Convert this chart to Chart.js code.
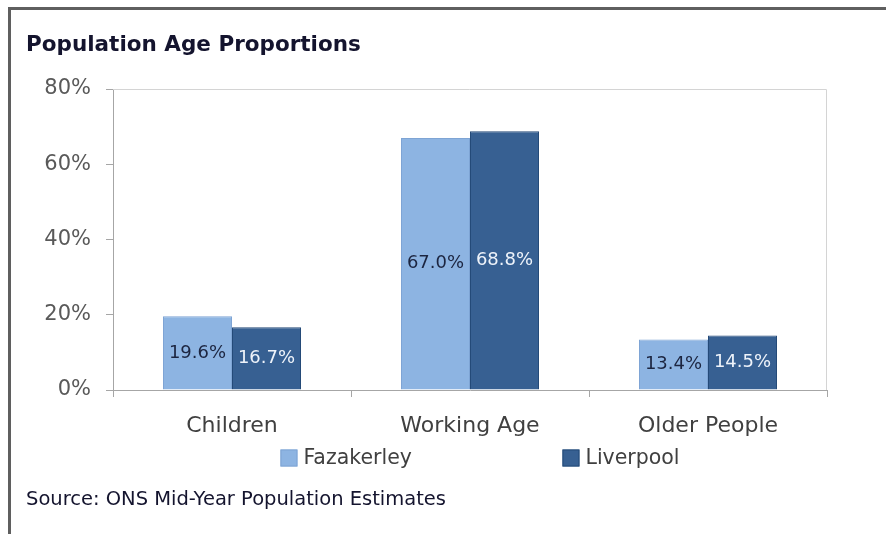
<!DOCTYPE html>
<html>
<head>
<meta charset="utf-8">
<script src="https://cdn.jsdelivr.net/npm/chart.js@4"></script>
<style>
  html, body { margin: 0; padding: 0; background: #fff; }
  #wrap { position: relative; width: 886px; height: 534px; }
  #frame {
    position: absolute; left: 8px; top: 7px; right: 0; bottom: 0;
    border-top: 3px solid #5f5f5f; border-left: 3px solid #5f5f5f;
  }
  #ageChart { position: absolute; left: 0; top: 0; }
</style>
</head>
<body>
<div id="wrap">
  <div id="frame"></div>
  <canvas id="ageChart" width="886" height="534"></canvas>
</div>
<script>
const chartTitle = 'Population Age Proportions';
const sourceNote = 'Source: ONS Mid-Year Population Estimates';
const categories = ['Children', 'Working Age', 'Older People'];
const fazakerley = [19.6, 67.0, 13.4];
const liverpool = [16.7, 68.8, 14.5];
const yTicks = [0, 20, 40, 60, 80];

const FONT = '"DejaVu Sans", sans-serif';

// title, plot frame, value labels, legend and source line
const decorations = {
    id: 'decorations',
    afterDatasetsDraw(chart) {
        const ctx = chart.ctx;
        const area = chart.chartArea;
        ctx.save();

        // light frame round the plot area
        ctx.strokeStyle = '#d4d4d4';
        ctx.lineWidth = 1;
        ctx.beginPath();
        ctx.moveTo(area.left, area.top + 0.5);
        ctx.lineTo(area.right - 0.5, area.top + 0.5);
        ctx.lineTo(area.right - 0.5, area.bottom);
        ctx.stroke();

        // value labels in the middle of each bar
        ctx.font = '18px ' + FONT;
        ctx.textAlign = 'center';
        ctx.textBaseline = 'middle';
        chart.data.datasets.forEach((ds, i) => {
            const meta = chart.getDatasetMeta(i);
            ctx.fillStyle = ds.labelColor;
            meta.data.forEach((bar, j) => {
                const y = (bar.y + bar.base) / 2;
                ctx.fillText(ds.data[j].toFixed(1) + '%', bar.x, y);
            });
        });

        // title
        ctx.textAlign = 'left';
        ctx.fillStyle = '#14142e';
        ctx.font = 'bold 21.5px ' + FONT;
        ctx.fillText(chartTitle, 26, 45);

        // legend: fixed step between entries, centred under the plot
        ctx.font = '20.5px ' + FONT;
        const box = 17, step = 282, textGap = 6;
        const n = chart.data.datasets.length;
        const lastW = box + textGap + ctx.measureText(chart.data.datasets[n - 1].label).width;
        let x = (area.left + area.right) / 2 - (step * (n - 1) + lastW) / 2 + 10;
        const ly = 458;
        chart.data.datasets.forEach(ds => {
            ctx.fillStyle = ds.backgroundColor;
            ctx.fillRect(x, ly - box / 2, box, box);
            ctx.strokeStyle = ds.borderColor;
            ctx.strokeRect(x + 0.5, ly - box / 2 + 0.5, box - 1, box - 1);
            ctx.fillStyle = '#404040';
            ctx.fillText(ds.label, x + box + textGap, ly + 1);
            x += step;
        });

        // source line
        ctx.fillStyle = '#14142e';
        ctx.font = '19.5px ' + FONT;
        ctx.fillText(sourceNote, 26, 500);

        ctx.restore();
    }
};

const data = {
    labels: categories,
    datasets: [{
        label: 'Fazakerley',
        data: fazakerley,
        backgroundColor: '#8db4e2',
        borderColor: '#7ea4d4',
        borderWidth: 1,
        labelColor: '#1c2540'
    }, {
        label: 'Liverpool',
        data: liverpool,
        backgroundColor: '#376092',
        borderColor: '#244a78',
        borderWidth: 1,
        labelColor: '#eef3fa'
    }]
};

const config = {
    type: 'bar',
    data: data,
    plugins: [decorations],
    options: {
        responsive: false,
        animation: false,
        layout: {
            padding: { top: 89, right: 59, bottom: 0, left: 0 }
        },
        datasets: {
            bar: { categoryPercentage: 0.58, barPercentage: 1.0 }
        },
        plugins: {
            legend: { display: false },
            title: { display: false },
            tooltip: { enabled: false }
        },
        scales: {
            x: {
                afterFit(scale) { scale.height = 144; },
                grid: {
                    offset: true,
                    drawOnChartArea: false,
                    drawTicks: true,
                    tickLength: 7,
                    color: '#a6a6a6'
                },
                border: { color: '#a6a6a6', width: 1 },
                ticks: {
                    color: '#404040',
                    padding: 16,
                    font: { family: FONT, size: 22 }
                }
            },
            y: {
                min: 0,
                max: 80,
                afterFit(scale) { scale.width = 113; },
                afterBuildTicks(scale) {
                    scale.ticks = yTicks.map(v => ({ value: v }));
                },
                grid: {
                    drawOnChartArea: false,
                    drawTicks: true,
                    tickLength: 7,
                    color: '#a6a6a6'
                },
                border: { color: '#a6a6a6', width: 1 },
                ticks: {
                    color: '#595959',
                    padding: 15,
                    font: { family: FONT, size: 21 },
                    callback: v => v + '%'
                }
            }
        }
    }
};

new Chart(document.getElementById('ageChart'), config);
</script>
</body>
</html>
